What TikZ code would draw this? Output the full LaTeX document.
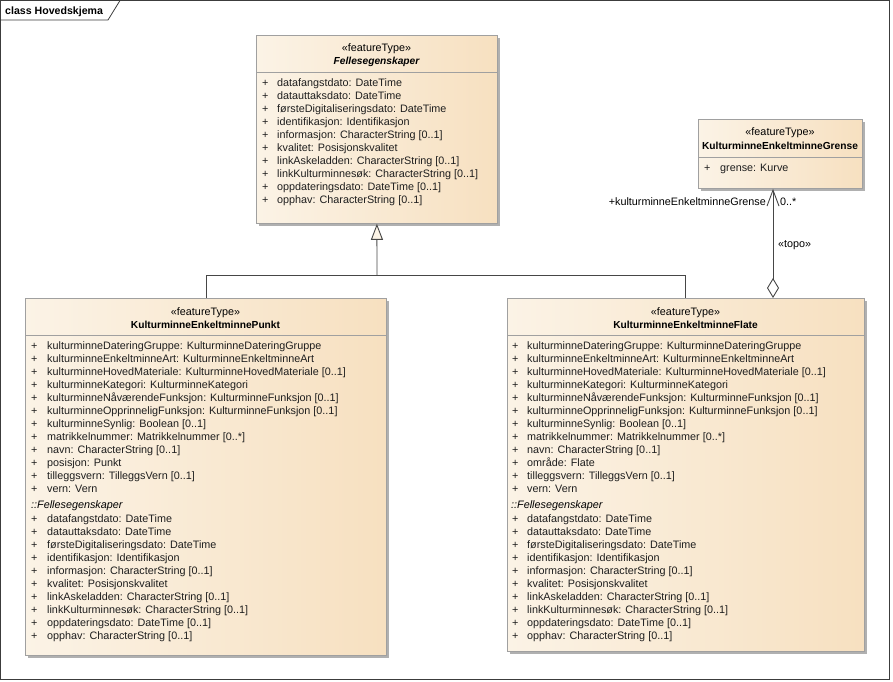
\documentclass[tikz,border=0pt]{standalone}
\usepackage{fontspec}
\setmainfont{Liberation Sans}
\usetikzlibrary{arrows.meta,shadows}
\definecolor{boxline}{RGB}{160,160,160}
\definecolor{shadowgray}{RGB}{176,176,176}
\definecolor{fillL}{RGB}{251,243,230}
\definecolor{fillR}{RGB}{247,224,192}
\definecolor{txt}{RGB}{30,30,30}
\definecolor{lin}{RGB}{70,70,70}
\definecolor{framecol}{RGB}{60,60,60}
\begin{document}
\begin{tikzpicture}[x=1pt,y=-1pt,
  fnt/.style={inner sep=0pt,text height=7.8pt,text depth=2.2pt,yshift=-1.5pt,font=\fontsize{10.8}{12}\selectfont},
  classbox/.style={rectangle,draw=boxline,line width=0.8pt,left color=fillL,right color=fillR,
    inner sep=0pt,anchor=north west,
    general shadow={fill=shadowgray,shadow xshift=3pt,shadow yshift=-3pt}},
  divider/.style={draw=boxline,line width=0.8pt},
  attr/.style={fnt,anchor=west,text=txt},
  plus/.style={fnt,anchor=west,text=txt},
  stereo/.style={fnt,anchor=center,text=black},
  cname/.style={fnt,anchor=center,text=black,font=\fontsize{10.2}{12}\selectfont\bfseries},
  grp/.style={fnt,anchor=west,text=black,font=\fontsize{10.8}{12}\selectfont\itshape},
  conn/.style={draw=lin,line width=0.9pt},
  lbl/.style={fnt,text=black}
]
\useasboundingbox (0,0) rectangle (893,681);
% frame
\draw[framecol,line width=0.8pt] (0.5,0.5) rectangle (889.5,679.5);
\draw[framecol,line width=0.8pt] (0.5,20) -- (108,20) -- (120,0.5);
\node[fnt,anchor=west,font=\fontsize{10.6}{12}\selectfont\bfseries] (title) at (5,10) {class Hovedskjema};

% Fellesegenskaper
\node[classbox,minimum width=241pt,minimum height=188pt] (felles) at (256,35) {};
\draw[divider] (felles.west |- 0,72) -- (felles.east |- 0,72);
\node[stereo] (fst) at (376.5,47) {«featureType»};
\node[cname,font=\fontsize{10.2}{12}\selectfont\bfseries\itshape] (fnm) at (376.5,60) {Fellesegenskaper};
\foreach \t [count=\i] in {{datafangstdato: DateTime},{datauttaksdato: DateTime},{førsteDigitaliseringsdato: DateTime},{identifikasjon: Identifikasjon},{informasjon: CharacterString [0..1]},{kvalitet: Posisjonskvalitet},{linkAskeladden: CharacterString [0..1]},{linkKulturminnesøk: CharacterString [0..1]},{oppdateringsdato: DateTime [0..1]},{opphav: CharacterString [0..1]}}{
  \node[plus] (fp\i) at (262,{82+13*(\i-1)}) {+};
  \node[attr] (fa\i) at (277,{82+13*(\i-1)}) {\t};
}

% Grense
\node[classbox,minimum width=164pt,minimum height=69pt] (grense) at (698,119) {};
\draw[divider] (grense.west |- 0,157) -- (grense.east |- 0,157);
\node[stereo] (gst) at (780,131) {«featureType»};
\node[cname] (gnm) at (780,145) {KulturminneEnkeltminneGrense};
\node[plus] (gp1) at (704,167) {+};
\node[attr] (ga1) at (720,167) {grense: Kurve};

% Punkt
\node[classbox,minimum width=361pt,minimum height=357pt] (punkt) at (25,298) {};
\draw[divider] (punkt.west |- 0,335) -- (punkt.east |- 0,335);
\node[stereo] (pst) at (205.5,311) {«featureType»};
\node[cname] (pnm) at (205.5,324) {KulturminneEnkeltminnePunkt};
\foreach \t [count=\i] in {{kulturminneDateringGruppe: KulturminneDateringGruppe},{kulturminneEnkeltminneArt: KulturminneEnkeltminneArt},{kulturminneHovedMateriale: KulturminneHovedMateriale [0..1]},{kulturminneKategori: KulturminneKategori},{kulturminneNåværendeFunksjon: KulturminneFunksjon [0..1]},{kulturminneOpprinneligFunksjon: KulturminneFunksjon [0..1]},{kulturminneSynlig: Boolean [0..1]},{matrikkelnummer: Matrikkelnummer [0..*]},{navn: CharacterString [0..1]},{posisjon: Punkt},{tilleggsvern: TilleggsVern [0..1]},{vern: Vern}}{
  \node[plus] (pp\i) at (31,{345+13*(\i-1)}) {+};
  \node[attr] (pa\i) at (47,{345+13*(\i-1)}) {\t};
}
\node[grp] (pg) at (31,504) {::Fellesegenskaper};
\foreach \t [count=\i] in {{datafangstdato: DateTime},{datauttaksdato: DateTime},{førsteDigitaliseringsdato: DateTime},{identifikasjon: Identifikasjon},{informasjon: CharacterString [0..1]},{kvalitet: Posisjonskvalitet},{linkAskeladden: CharacterString [0..1]},{linkKulturminnesøk: CharacterString [0..1]},{oppdateringsdato: DateTime [0..1]},{opphav: CharacterString [0..1]}}{
  \node[plus] (pq\i) at (31,{518+13*(\i-1)}) {+};
  \node[attr] (pb\i) at (47,{518+13*(\i-1)}) {\t};
}

% Flate
\node[classbox,minimum width=357pt,minimum height=353pt] (flate) at (507,298) {};
\draw[divider] (flate.west |- 0,335) -- (flate.east |- 0,335);
\node[stereo] (lst) at (685.5,311) {«featureType»};
\node[cname] (lnm) at (685.5,324) {KulturminneEnkeltminneFlate};
\foreach \t [count=\i] in {{kulturminneDateringGruppe: KulturminneDateringGruppe},{kulturminneEnkeltminneArt: KulturminneEnkeltminneArt},{kulturminneHovedMateriale: KulturminneHovedMateriale [0..1]},{kulturminneKategori: KulturminneKategori},{kulturminneNåværendeFunksjon: KulturminneFunksjon [0..1]},{kulturminneOpprinneligFunksjon: KulturminneFunksjon [0..1]},{kulturminneSynlig: Boolean [0..1]},{matrikkelnummer: Matrikkelnummer [0..*]},{navn: CharacterString [0..1]},{område: Flate},{tilleggsvern: TilleggsVern [0..1]},{vern: Vern}}{
  \node[plus] (lp\i) at (512,{345+13*(\i-1)}) {+};
  \node[attr] (la\i) at (527,{345+13*(\i-1)}) {\t};
}
\node[grp] (lg) at (511,504) {::Fellesegenskaper};
\foreach \t [count=\i] in {{datafangstdato: DateTime},{datauttaksdato: DateTime},{førsteDigitaliseringsdato: DateTime},{identifikasjon: Identifikasjon},{informasjon: CharacterString [0..1]},{kvalitet: Posisjonskvalitet},{linkAskeladden: CharacterString [0..1]},{linkKulturminnesøk: CharacterString [0..1]},{oppdateringsdato: DateTime [0..1]},{opphav: CharacterString [0..1]}}{
  \node[plus] (lq\i) at (512,{518+13*(\i-1)}) {+};
  \node[attr] (lb\i) at (527,{518+13*(\i-1)}) {\t};
}

% generalization
\coordinate (junc) at (377,275);
\draw[conn,-{Triangle[length=16pt,width=12pt,fill=fillL]}] (junc) -- (felles.south);
\draw[conn] (junc) -| ([xshift=181pt]punkt.north west);
\draw[conn] (junc) -| ([xshift=178pt]flate.north west);

% aggregation
\draw[conn,{Diamond[length=20pt,width=12pt,fill=white]}-{Straight Barb[length=16pt,width=12pt]}] ([xshift=266pt]flate.north west) -- ([xshift=75pt]grense.south west);
\node[lbl,anchor=east] (rolename) at (766,201) {+kulturminneEnkeltminneGrense};
\node[lbl,anchor=west] (mult) at (780,201) {0..*};
\node[lbl,anchor=west] (topo) at (778,243) {«topo»};
\end{tikzpicture}
\end{document}
